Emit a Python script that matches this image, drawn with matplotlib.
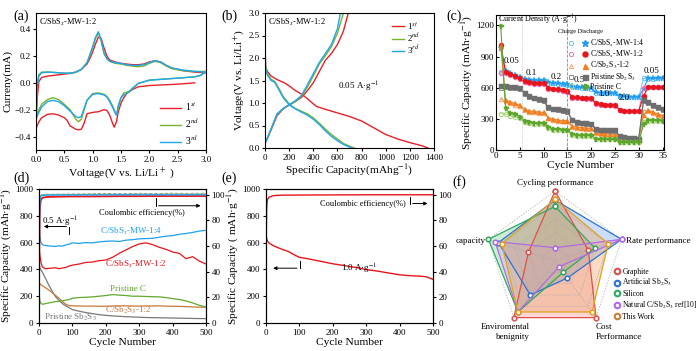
import numpy as np
import matplotlib
matplotlib.use('Agg')
import matplotlib.pyplot as plt
from matplotlib.lines import Line2D
from matplotlib.legend_handler import HandlerTuple

plt.rcParams['font.family'] = ['Liberation Serif', 'DejaVu Serif']
plt.rcParams['mathtext.fontset'] = 'stix'
plt.rcParams['axes.linewidth'] = 0.8
plt.rcParams['xtick.major.size'] = 2.5
plt.rcParams['ytick.major.size'] = 2.5
plt.rcParams['xtick.major.pad'] = 1.5
plt.rcParams['ytick.major.pad'] = 1.5
plt.rcParams['xtick.labelsize'] = 6.5
plt.rcParams['ytick.labelsize'] = 6.5

W, H = 700, 351

# ── (a) CV curves ──────────────────────────────────────────────────────────────
V_UP = [0.0, 0.02, 0.05, 0.1, 0.2, 0.3, 0.4, 0.5, 0.6, 0.7, 0.8, 0.9, 0.95, 1.0, 1.05, 1.1, 1.15,
        1.2, 1.25, 1.3, 1.4, 1.5, 1.6, 1.7, 1.8, 1.9, 2.0, 2.1, 2.2, 2.3, 2.4, 2.6, 2.8, 3.0]
I_UP1 = [-0.34, -0.12, 0.01, 0.04, 0.05, 0.055, 0.06, 0.065, 0.07, 0.08, 0.10, 0.14, 0.18, 0.23, 0.29,
         0.34, 0.33, 0.26, 0.20, 0.17, 0.155, 0.145, 0.14, 0.135, 0.135, 0.14, 0.155, 0.165, 0.155, 0.13,
         0.11, 0.09, 0.08, 0.075]
I_UP2 = [-0.25, -0.02, 0.06, 0.08, 0.08, 0.078, 0.075, 0.072, 0.072, 0.078, 0.10, 0.15, 0.20, 0.26, 0.33,
         0.37, 0.31, 0.22, 0.18, 0.16, 0.145, 0.14, 0.13, 0.125, 0.12, 0.125, 0.145, 0.16, 0.15, 0.125,
         0.105, 0.09, 0.085, 0.085]
I_UP3 = [-0.27, -0.03, 0.05, 0.075, 0.08, 0.078, 0.075, 0.072, 0.072, 0.078, 0.10, 0.15, 0.21, 0.27, 0.34,
         0.38, 0.32, 0.22, 0.18, 0.16, 0.15, 0.145, 0.135, 0.13, 0.13, 0.135, 0.15, 0.165, 0.155, 0.13,
         0.11, 0.095, 0.085, 0.08]
V_DN = [0.0, 0.05, 0.1, 0.2, 0.3, 0.4, 0.5, 0.55, 0.6, 0.7, 0.75, 0.8, 0.85, 0.9, 1.0, 1.1, 1.2, 1.25,
        1.3, 1.35, 1.38, 1.42, 1.45, 1.5, 1.55, 1.6, 1.65, 1.7, 1.8, 2.0, 2.5, 2.8, 2.9, 3.0]
I_DN1 = [-0.34, -0.29, -0.26, -0.235, -0.23, -0.24, -0.26, -0.28, -0.32, -0.345, -0.35, -0.345, -0.30,
         -0.23, -0.22, -0.215, -0.20, -0.205, -0.24, -0.30, -0.33, -0.29, -0.22, -0.15, -0.11, -0.08,
         -0.065, -0.05, -0.03, -0.02, -0.01, 0.0, np.nan, np.nan]
I_DN2 = [-0.25, -0.20, -0.16, -0.125, -0.11, -0.125, -0.16, -0.18, -0.20, -0.27, -0.29, -0.27, -0.20,
         -0.13, -0.08, -0.075, -0.085, -0.10, -0.13, -0.17, -0.20, -0.24, -0.19, -0.11, -0.075, -0.07,
         -0.06, -0.04, -0.005, 0.02, 0.035, 0.045, 0.055, 0.085]
I_DN3 = [-0.27, -0.22, -0.18, -0.14, -0.13, -0.14, -0.17, -0.19, -0.21, -0.25, -0.26, -0.25, -0.19,
         -0.13, -0.085, -0.08, -0.09, -0.105, -0.14, -0.18, -0.21, -0.24, -0.17, -0.11, -0.09, -0.08,
         -0.065, -0.045, -0.005, 0.02, 0.035, 0.045, 0.055, 0.08]

# ── (b) charge / discharge profiles ───────────────────────────────────────────
Q_DIS1 = [0, 2, 5, 20, 50, 100, 160, 200, 250, 300, 350, 400, 430, 500, 600, 700, 800, 900, 1000,
          1100, 1200, 1300, 1350]
V_DIS1 = [3.0, 2.2, 1.8, 1.7, 1.6, 1.52, 1.45, 1.38, 1.28, 1.2, 1.1, 0.98, 0.92, 0.86, 0.78, 0.70, 0.60,
          0.45, 0.30, 0.20, 0.12, 0.05, 0.0]
Q_DIS2 = [0, 2, 5, 20, 50, 80, 120, 150, 200, 250, 300, 350, 400, 450, 500, 550, 600, 650, 700, 740]
V_DIS2 = [3.0, 2.1, 1.8, 1.65, 1.53, 1.48, 1.3, 1.15, 0.98, 0.88, 0.82, 0.76, 0.67, 0.55, 0.42, 0.30,
          0.20, 0.10, 0.04, 0.0]
Q_DIS3 = [0, 2, 5, 20, 50, 80, 120, 150, 200, 250, 300, 350, 400, 450, 500, 550, 600, 650, 700, 720]
V_DIS3 = [3.0, 2.05, 1.75, 1.62, 1.5, 1.46, 1.27, 1.12, 0.96, 0.87, 0.80, 0.73, 0.64, 0.52, 0.38, 0.26,
          0.16, 0.08, 0.02, 0.0]
Q_CHG1 = [0, 20, 50, 100, 150, 200, 250, 300, 350, 400, 450, 500, 550, 600, 650, 690]
V_CHG1 = [0.1, 0.22, 0.40, 0.72, 0.87, 0.96, 1.03, 1.12, 1.27, 1.45, 1.70, 1.95, 2.10, 2.30, 2.60, 3.0]
Q_CHG2 = [0, 20, 50, 100, 150, 200, 250, 300, 350, 400, 450, 500, 550, 600, 650]
V_CHG2 = [0.1, 0.22, 0.42, 0.75, 0.87, 0.95, 1.03, 1.14, 1.35, 1.60, 1.87, 2.05, 2.25, 2.55, 3.0]
Q_CHG3 = [0, 20, 50, 100, 150, 200, 250, 300, 350, 400, 450, 500, 550, 600, 625]
V_CHG3 = [0.1, 0.22, 0.42, 0.76, 0.88, 0.96, 1.05, 1.16, 1.40, 1.65, 1.90, 2.10, 2.30, 2.65, 3.0]

# ── (c) rate performance ──────────────────────────────────────────────────────
CYC = list(range(1, 36))
BLUE_DIS = [980, 760, 740, 720, 705, 685, 675, 672, 670, 670, 652, 648, 642, 638, 632, 612, 606, 602, 598,
            595, 558, 552, 552, 550, 548, 522, 516, 512, 510, 510, 592, 690, 690, 692, 692]
BLUE_CHG = [750, 745, 728, 710, 695, 678, 670, 668, 666, 665, 648, 642, 638, 634, 628, 606, 602, 598, 594,
            590, 552, 548, 548, 546, 545, 518, 512, 510, 508, 508, 690, 688, 688, 690, 690]
RED_DIS = [1010, 755, 732, 712, 695, 662, 655, 650, 648, 645, 600, 592, 586, 578, 565, 512, 506, 502, 500,
           497, 452, 442, 438, 436, 432, 388, 378, 376, 376, 376, 520, 605, 606, 606, 606]
RED_CHG = [740, 738, 720, 700, 685, 652, 645, 640, 638, 635, 590, 584, 578, 570, 556, 505, 500, 497, 495,
           492, 446, 438, 434, 432, 428, 382, 375, 373, 373, 373, 600, 602, 603, 603, 603]
ORG_DIS = [1000, 480, 462, 448, 432, 392, 378, 372, 366, 362, 312, 298, 288, 283, 281, 232, 222, 216, 212,
           208, 172, 162, 158, 156, 152, 112, 104, 102, 101, 101, 340, 385, 365, 348, 332]
ORG_CHG = [490, 468, 452, 438, 425, 382, 370, 365, 360, 356, 305, 290, 282, 278, 276, 226, 216, 210, 206,
           202, 166, 158, 154, 152, 148, 108, 100, 99, 98, 98, 380, 372, 355, 340, 325]
GRY_DIS = [620, 612, 608, 605, 595, 550, 522, 505, 490, 478, 410, 398, 392, 384, 372, 292, 268, 262, 258,
           252, 202, 196, 192, 190, 188, 132, 122, 116, 112, 110, 480, 462, 432, 410, 395]
GRY_CHG = [600, 605, 600, 598, 588, 540, 515, 498, 484, 470, 402, 392, 386, 378, 365, 286, 262, 256, 252,
           246, 197, 192, 188, 186, 184, 128, 118, 112, 108, 106, 470, 455, 425, 404, 390]
GRN_DIS = [1190, 400, 352, 342, 322, 282, 266, 260, 258, 262, 222, 202, 198, 196, 192, 152, 142, 141, 140,
           140, 110, 106, 106, 106, 106, 76, 76, 76, 76, 76, 250, 288, 288, 287, 282]
GRN_CHG = [350, 345, 332, 318, 305, 270, 258, 255, 252, 255, 215, 196, 193, 192, 188, 147, 138, 137, 137,
           137, 106, 103, 103, 103, 103, 73, 73, 73, 73, 73, 270, 280, 280, 278, 275]
RATE_LABELS = ['0.05', '0.1', '0.2', '0.5', '1.0', '2.0', '0.05']
RATE_POS = [(3.2, 860), (7.5, 740), (12.6, 700), (17.4, 672), (22.6, 535), (27.0, 500), (32.6, 765)]

# ── (d) long cycling at 0.5 A/g ───────────────────────────────────────────────
D_CYC = [1, 3, 6, 10, 15, 20, 30, 40, 50, 60, 70, 80, 90, 100, 120, 140, 160, 180, 200, 220, 240, 260,
         280, 300, 320, 340, 360, 380, 400, 420, 440, 460, 480, 500]
D_BLUE = [700, 640, 600, 585, 580, 578, 575, 573, 572, 576, 574, 582, 588, 598, 594, 600, 598, 605, 610,
          612, 608, 618, 622, 628, 630, 632, 640, 648, 652, 662, 668, 676, 686, 692]
D_RED = [560, 500, 450, 420, 410, 405, 408, 410, 412, 405, 410, 415, 425, 432, 440, 452, 455, 465, 470,
         490, 520, 545, 570, 590, 598, 585, 565, 550, 530, 520, 480, 495, 462, 440]
D_GRN = [200, 160, 145, 140, 142, 145, 150, 155, 160, 162, 165, 170, 175, 185, 190, 192, 195, 200, 205,
         212, 208, 205, 200, 200, 198, 196, 195, 190, 182, 175, 165, 150, 132, 120]
D_GRY = [440, 410, 395, 380, 355, 330, 280, 235, 195, 168, 145, 128, 115, 100, 88, 78, 70, 62, 57, 53,
         50, 47, 45, 43, 41, 40, 39, 38, 37, 36, 35, 34, 33, 33]
D_ORG = [300, 292, 285, 278, 270, 262, 245, 225, 205, 185, 160, 140, 130, 128, 127, 126, 126, 125, 125,
         127, 128, 128, 127, 126, 127, 127, 128, 126, 125, 124, 122, 120, 118, 118]
CE_CYC = [1, 2, 3, 5, 8, 12, 20, 50, 100, 150, 200, 250, 300, 350, 400, 450, 500]
CE_RED = [58, 80, 90, 95, 97, 97.5, 98, 98.3, 98.5, 98.5, 98.6, 98.7, 98.7, 98.8, 98.8, 98.8, 98.8]
CE_BLUE = [70, 90, 96, 98.5, 99, 99.3, 99.5, 99.6, 99.6, 99.7, 99.7, 99.8, 99.8, 99.8, 99.8, 99.8, 99.8]
CE_GRY = [96, 98, 99, 99.5, 99.8, 100, 100.2, 100.3, 100.4, 100.6, 100.8, 100.7, 100.9, 100.8, 101.0,
          100.9, 101.0]
CE_GRN = [97, 98.5, 99, 99.4, 99.6, 99.7, 99.8, 99.9, 100, 100.1, 100.2, 100.1, 100.3, 100.2, 100.4,
          100.3, 100.4]

# ── (e) long cycling at 1.0 A/g ───────────────────────────────────────────────
E_CYC = [1, 3, 5, 10, 20, 30, 40, 50, 60, 70, 80, 90, 100, 120, 140, 160, 180, 200, 220, 240, 260, 280,
         300, 320, 340, 360, 380, 400, 420, 440, 460, 480, 500]
E_CAP = [645, 620, 608, 595, 580, 568, 558, 548, 540, 530, 515, 502, 490, 482, 472, 462, 452, 442, 434,
         426, 418, 410, 398, 392, 385, 376, 368, 360, 355, 352, 350, 345, 325]
E_CE_CYC = [1, 2, 3, 4, 5, 8, 10, 15, 20, 30, 50, 100, 200, 300, 400, 500]
E_CE = [72, 88, 93, 95, 96.5, 97.5, 98, 98.5, 99, 99.3, 99.5, 99.6, 99.7, 99.8, 99.8, 99.8]

# ── (f) radar ─────────────────────────────────────────────────────────────────
AXES_F = ['Cycling performance', 'Rate performance', 'Cost\nPerformance', 'Enviromental\nbenignity',
          'capacity']
R_GRAPHITE = [1.0, 0.5, 1.0, 1.0, 0.4]
R_ARTIFICIAL = [0.87, 1.0, 0.3, 0.6, 0.85]
R_SILICON = [0.78, 0.6, 0.2, 0.9, 1.0]
R_NATURAL = [0.19, 1.0, 0.1, 0.9, 0.9]
R_THISWORK = [0.88, 0.8, 0.9, 0.9, 0.8]


def box(x0, y0, x1, y1):
    return [x0 / W, 1 - y1 / H, (x1 - x0) / W, (y1 - y0) / H]


fig = plt.figure(figsize=(7.0, 3.51), dpi=100)

LBL = 8.2
RED, GREEN, BLUE = '#e8202a', '#78b42a', '#1ea6f0'

# ── panel (a) ──
ax = fig.add_axes(box(36, 13, 206, 150))
for vu, iu, vd, idn, c, lab in [(V_UP, I_UP1, V_DN, I_DN1, RED, '1$^{st}$'),
                                (V_UP, I_UP2, V_DN, I_DN2, GREEN, '2$^{nd}$'),
                                (V_UP, I_UP3, V_DN, I_DN3, BLUE, '3$^{rd}$')]:
    ax.plot(vu, iu, color=c, lw=1.0, label=lab)
    ax.plot(vd, idn, color=c, lw=1.0)
ax.set_xlim(0, 3.0)
ax.set_ylim(-0.5, 0.52)
ax.set_xticks(np.arange(0, 3.01, 0.5))
ax.set_yticks([-0.4, -0.2, 0.0, 0.2, 0.4])
ax.set_xlabel('Voltage(V vs. Li/Li$^+$ )', fontsize=LBL, labelpad=1)
ax.set_ylabel('Curreny(mA)', fontsize=LBL, labelpad=1)
ax.text(0.02, 0.97, 'C/SbS$_x$-MW-1:2', transform=ax.transAxes, fontsize=6, va='top')
ax.legend(loc='lower right', bbox_to_anchor=(1.0, -0.03), frameon=False, fontsize=7,
          handlelength=2.2, labelspacing=0.35, borderaxespad=0.3, handletextpad=0.4)

# ── panel (b) ──
ax = fig.add_axes(box(265, 13, 434, 148))
ax.plot(Q_DIS1, V_DIS1, color=RED, lw=1.0, label='1$^{st}$')
ax.plot(Q_CHG1, V_CHG1, color=RED, lw=1.0)
ax.plot(Q_DIS2, V_DIS2, color=GREEN, lw=1.0, label='2$^{nd}$')
ax.plot(Q_CHG2, V_CHG2, color=GREEN, lw=1.0)
ax.plot(Q_DIS3, V_DIS3, color=BLUE, lw=1.0, label='3$^{rd}$')
ax.plot(Q_CHG3, V_CHG3, color=BLUE, lw=1.0)
ax.set_xlim(0, 1400)
ax.set_ylim(0, 3.0)
ax.set_xticks(range(0, 1401, 200))
ax.set_yticks(np.arange(0, 3.01, 0.5))
ax.set_xlabel('Specific Capacity(mAhg$^{-1}$)', fontsize=LBL, labelpad=1)
ax.set_ylabel('Voltage(V vs. Li/Li$^{+}$)', fontsize=LBL, labelpad=1)
ax.text(0.02, 0.97, 'C/SbS$_x$-MW-1:2', transform=ax.transAxes, fontsize=6, va='top')
ax.text(775, 1.35, '0.05 A·g$^{-1}$', fontsize=6.5, ha='center', va='center')
ax.legend(loc='upper right', bbox_to_anchor=(0.96, 1.0), frameon=False, fontsize=6.5,
          handlelength=1.3, labelspacing=0.0, borderaxespad=0.4, handletextpad=0.3)

# ── panel (c) ──
ax = fig.add_axes(box(496, 15, 664, 150))
SERIES_C = [
    (BLUE_CHG, BLUE_DIS, '#1e9cf0', '#6cc4f7', '*', 'o', 'C/SbS$_x$-MW-1:4'),
    (RED_CHG, RED_DIS, '#e8141c', '#ee6fb8', 'o', 'o', 'C/SbS$_x$-MW-1:2'),
    (ORG_CHG, ORG_DIS, '#f07f22', '#f5a468', '^', '^', 'C/Sb$_2$S$_3$-1:2'),
    (GRY_CHG, GRY_DIS, '#6e6e6e', '#8e8e8e', 's', 's', 'Pristine Sb$_2$S$_3$'),
    (GRN_CHG, GRN_DIS, '#5ea52c', '#a8d47e', 'P', 'o', 'Pristine C'),
]
handles = []
labels = []
for chg, dis, c, cl, mk, mkc, lab in SERIES_C:
    ms = 5 if mk == '*' else 3.6
    ax.plot(CYC, chg, color=cl, lw=0.7, marker=mkc, ms=3.2, mfc='none', mec=cl, mew=0.7)
    ax.plot(CYC, dis, color=c, lw=0.8, marker=mk, ms=ms, mfc=c, mec=c, mew=0.3)
    h1 = Line2D([], [], ls='none', marker=mkc, ms=3.0, mfc='none', mec=cl, mew=0.7)
    h2 = Line2D([], [], ls='none', marker=mk, ms=ms, mfc=c, mec=c)
    handles.append((h1, h2))
    labels.append(lab)
ax.axvline(5.5, color='#bbbbbb', lw=0.6, ls=':')
ax.axvline(15.0, color='#888888', lw=0.6, ls='--')
ax.set_xlim(0, 35.3)
ax.set_ylim(0, 1300)
ax.set_xticks(range(0, 36, 5))
ax.set_yticks(range(0, 1201, 300))
ax.tick_params(direction='in')
ax.set_xlabel('Cycle Number', fontsize=LBL, labelpad=1)
ax.set_ylabel('Specific Capacity (mAh·g$^{-1}$)', fontsize=LBL, labelpad=1)
for t, (x, y) in zip(RATE_LABELS, RATE_POS):
    ax.text(x, y, t, fontsize=6.5, ha='center', va='center')
ax.text(0.01, 0.965, 'Current Density (A·g$^{-1}$)', transform=ax.transAxes, fontsize=5.8,
        va='center')
ax.text(0.37, 0.878, 'Charge Discharge', transform=ax.transAxes, fontsize=4.5, va='center')
ax.legend(handles, labels, handler_map={tuple: HandlerTuple(ndivide=None, pad=1.2)},
          loc='upper left', bbox_to_anchor=(0.41, 0.868), frameon=False, fontsize=5.6,
          handlelength=2.2, handleheight=0.6, labelspacing=0.02, handletextpad=0.4, borderpad=0.1)

# ── panel (d) ──
ax = fig.add_axes(box(39, 189, 206, 323))
ax2 = ax.twinx()
ax.plot(D_CYC, D_GRY, color='#7a7a7a', lw=0.9)
ax.plot(D_CYC, D_ORG, color='#c8783a', lw=0.9)
ax.plot(D_CYC, D_GRN, color='#62a82c', lw=0.9)
ax.plot(D_CYC, D_RED, color='#e8141c', lw=0.9)
ax.plot(D_CYC, D_BLUE, color='#1ea0f0', lw=0.9)
ax2.plot(CE_CYC, CE_GRY, color='#999999', lw=0.7, ls='--')
ax2.plot(CE_CYC, CE_GRN, color='#8cc05a', lw=0.7)
ax2.plot(CE_CYC, CE_RED, color='#e8141c', lw=1.3)
ax2.plot(CE_CYC, CE_BLUE, color='#1ea0f0', lw=1.0)
ax.set_xlim(0, 500)
ax.set_ylim(0, 1000)
ax2.set_ylim(0, 104.3)
ax.set_xticks(range(0, 501, 100))
ax.set_yticks(range(0, 1001, 200))
ax2.set_yticks(range(0, 101, 20))
ax.set_xlabel('Cycle Number', fontsize=LBL, labelpad=1)
ax.set_ylabel('Specific Capacity (mAh·g$^{-1}$)', fontsize=LBL, labelpad=1)
ax.text(277, 681, 'C/SbS$_x$-MW-1:4', color='#1ea0f0', fontsize=6.5, ha='center', va='center')
ax.text(290, 440, 'C/SbS$_x$-MW-1:2', color='#e8141c', fontsize=6.5, ha='center', va='center')
ax.text(265, 257, 'Pristine C', color='#62a82c', fontsize=6.5, ha='center', va='center')
ax.text(268, 95, 'C/Sb$_2$S$_3$-1:2', color='#c8783a', fontsize=6.5, ha='center', va='center')
ax.text(95, 40, 'Pristine Sb$_2$S$_3$', color='#7a7a7a', fontsize=6.5, ha='center', va='center')
ax.text(308, 820, 'Coulombic efficiency(%)', fontsize=6, ha='center', va='center')
ax.plot([350, 350], [935, 875], color='k', lw=0.7)
ax.annotate('', xy=(492, 875), xytext=(350, 875),
            arrowprops=dict(arrowstyle='-|>', lw=0.7, color='k', mutation_scale=5))
ax.text(65, 755, '0.5 A·g$^{-1}$', fontsize=6.5, ha='center', va='center')
ax.plot([90, 90], [720, 665], color='k', lw=0.7)
ax.annotate('', xy=(6, 720), xytext=(90, 720),
            arrowprops=dict(arrowstyle='-|>', lw=0.7, color='k', mutation_scale=5))

# ── panel (e) ──
ax = fig.add_axes(box(266, 189, 433, 323))
ax2 = ax.twinx()
ax.plot(E_CYC, E_CAP, color='#e8141c', lw=1.0)
ax2.plot(E_CE_CYC, E_CE, color='#e8141c', lw=1.0)
ax.set_xlim(0, 500)
ax.set_ylim(0, 1000)
ax2.set_ylim(0, 104.3)
ax.set_xticks(range(0, 501, 100))
ax.set_yticks(range(0, 1001, 200))
ax2.set_yticks(range(0, 101, 20))
ax.set_xlabel('Cycle Number', fontsize=LBL, labelpad=1)
ax.set_ylabel('Specific Capacity ( mAh·g$^{-1}$)', fontsize=LBL, labelpad=1)
ax2.text(290, 92.5, 'Coulombic efficiency(%)', fontsize=6, ha='center', va='center')
ax2.plot([431, 431], [98, 93], color='k', lw=0.7)
ax2.annotate('', xy=(492, 93), xytext=(431, 93),
             arrowprops=dict(arrowstyle='-|>', lw=0.7, color='k', mutation_scale=5))
ax.text(279, 400, '1.0 A·g$^{-1}$', fontsize=6.5, ha='center', va='center')
ax.plot([101, 101], [459, 409], color='k', lw=0.7)
ax.annotate('', xy=(13, 409), xytext=(101, 409),
            arrowprops=dict(arrowstyle='-|>', lw=0.7, color='k', mutation_scale=5))

# ── panel (f) radar ──
axr = fig.add_axes(box(485, 191, 625, 331), projection='polar')
axr.set_theta_offset(np.pi / 2)
axr.set_theta_direction(-1)
axr.set_ylim(0, 1.0)
axr.set_axis_off()
theta = np.deg2rad([0, 72, 144, 216, 288])
tc = np.append(theta, theta[0])
for lv in [0.2, 0.4, 0.6, 0.8, 1.0]:
    axr.plot(tc, [lv] * 6, color='#aaaaaa', lw=0.5, ls=(0, (2, 2)), clip_on=False)
for t in theta:
    axr.plot([t, t], [0, 1.0], color='#aaaaaa', lw=0.5, ls=(0, (2, 2)), clip_on=False)

RADAR = [(R_GRAPHITE, '#e0504a', '#f28a86', '#e0504a', 'Graphite'),
         (R_ARTIFICIAL, '#2d72d6', '#6fa2ea', '#2d72d6', 'Artificial Sb$_2$S$_3$'),
         (R_SILICON, '#2eaa5c', '#74c98f', '#2eaa5c', 'Silicon'),
         (R_NATURAL, '#b26ae3', '#cfa5ee', '#b26ae3', 'Natural C/Sb$_2$S$_3$ ref[10]'),
         (R_THISWORK, '#e2a21a', '#f09a5c', '#c97f3c', 'This Work')]
rh = []
for vals, c, fc, lc, lab in RADAR:
    v = np.append(vals, vals[0])
    axr.fill(tc, v, color=fc, alpha=0.35, lw=0, clip_on=False)
    axr.plot(tc, v, color=c, lw=0.9, marker='o', ms=3.3, mfc='white', mec=c, mew=1.1, clip_on=False)
    rh.append(Line2D([], [], ls='none', marker='o', ms=4, mfc='white', mec=lc, mew=1.5))
LAB_POS = [(0, 1.11, 'center', 'center'), (74, 1.05, 'left', 'center'),
           (150, 1.17, 'left', 'center'), (199.4, 1.075, 'right', 'center'),
           (286.2, 1.03, 'right', 'center')]
for name, (ang, r, ha, va) in zip(AXES_F, LAB_POS):
    axr.text(np.deg2rad(ang), r, name, fontsize=6.5, ha=ha, va=va, multialignment=ha)
axr.legend(rh, [r[4] for r in RADAR], loc='upper left', bbox_to_anchor=(609 / W, 1 - 263 / H),
           bbox_transform=fig.transFigure, frameon=False, fontsize=5.5, handlelength=0.8,
           handletextpad=0.35, labelspacing=0.22, borderpad=0.1)

# ── panel letters ──
for t, x, y in [('(a)', 21, 16), ('(b)', 229, 16), ('(c)', 454, 16),
                ('(d)', 22, 178), ('(e)', 229, 178), ('(f)', 459, 182)]:
    fig.text(x / W, 1 - y / H, t, fontsize=10, ha='center', va='center')

fig.savefig('out.png', dpi=100)
